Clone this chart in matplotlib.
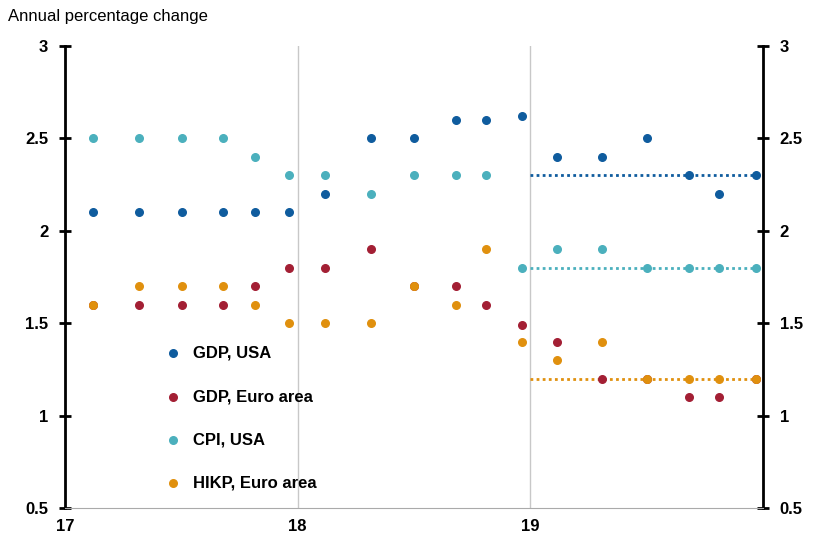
import matplotlib
matplotlib.use("Agg")
import matplotlib.pyplot as plt

x = [17.12,17.318,17.503,17.68,17.817,17.963,18.118,18.316,18.501,18.682,18.811,18.966,19.116,19.31,19.503,19.68,19.813,19.968]
gdp_usa = [2.1,2.1,2.1,2.1,2.1,2.1,2.2,2.5,2.5,2.6,2.6,2.62,2.4,2.4,2.5,2.3,2.2,2.3]
gdp_ea  = [1.6,1.6,1.6,1.6,1.7,1.8,1.8,1.9,1.7,1.7,1.6,1.49,1.4,1.2,1.2,1.1,1.1,1.2]
cpi_usa = [2.5,2.5,2.5,2.5,2.4,2.3,2.3,2.2,2.3,2.3,2.3,1.8,1.9,1.9,1.8,1.8,1.8,1.8]
hicp_ea = [1.6,1.7,1.7,1.7,1.6,1.5,1.5,1.5,1.7,1.6,1.9,1.4,1.3,1.4,1.2,1.2,1.2,1.2]
targets = {"gdp_usa": 2.3, "cpi_usa": 1.8, "hicp_ea": 1.2}

plt.rcParams['font.family'] = ['Liberation Sans', 'DejaVu Sans']
fig = plt.figure(figsize=(8.15, 5.52), dpi=100)
ax = fig.add_axes([65/815, 1-508/552, (763-65)/815, (508-46)/552])

c = {"gdp_usa": "#0f5c9e", "gdp_ea": "#a31f34", "cpi_usa": "#4bb0bd", "hicp_ea": "#e0900e"}
ax.scatter(x, gdp_usa, s=30, color=c["gdp_usa"], label="GDP, USA", zorder=3)
ax.scatter(x, gdp_ea, s=30, color=c["gdp_ea"], label="GDP, Euro area", zorder=3)
ax.scatter(x, cpi_usa, s=30, color=c["cpi_usa"], label="CPI, USA", zorder=3)
ax.scatter(x, hicp_ea, s=30, color=c["hicp_ea"], label="HIKP, Euro area", zorder=3)
for k, v in targets.items():
    ax.plot([19, 20], [v, v], ls=(0, (1, 1.2)), lw=2, color=c[k], zorder=2)

ax.set_xlim(17, 20)
ax.set_ylim(0.5, 3)
ax.set_xticks([17, 18, 19])
ax.set_yticks([0.5, 1, 1.5, 2, 2.5, 3])
ax.set_yticklabels(["0.5", "1", "1.5", "2", "2.5", "3"])
ax.grid(axis='x', color='#c8c8c8', lw=1)
ax.set_axisbelow(True)
ax.spines['top'].set_visible(False)
ax.spines['bottom'].set_color('#aaaaaa')
ax.spines['left'].set_linewidth(2)
ax.spines['right'].set_linewidth(2)
ax.tick_params(axis='y', direction='inout', length=8, width=2, labelsize=12, right=True, labelright=True, pad=8)
ax.tick_params(axis='x', length=0, labelsize=12, pad=8)
for lab in ax.get_xticklabels() + ax.yaxis.get_ticklabels():
    lab.set_fontweight('bold')

ax.legend(loc='lower left', bbox_to_anchor=(0.11, 0.005), frameon=False, prop={'size': 12, 'weight': 'bold'},
          labelspacing=1.7, handletextpad=0.2, scatterpoints=1)
fig.text(8/815, 1-16/552, "Annual percentage change", fontsize=12, va='center')
fig.savefig("out.png", dpi=100)
